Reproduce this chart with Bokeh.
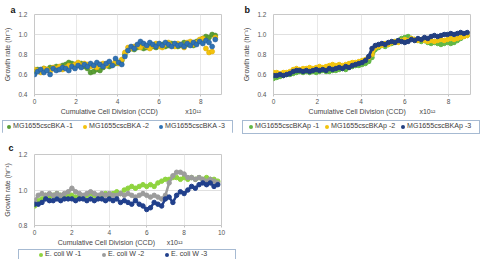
from bokeh.plotting import figure
from bokeh.models import Title, FixedTicker, PrintfTickFormatter, Div
from bokeh.layouts import column, row
from bokeh.embed import file_html
from bokeh.resources import INLINE

FONT = "Liberation Sans"
NB = "\u00a0"

# ---------------- data ----------------
# panel a
a_x = [0.00, 0.15, 0.30, 0.45, 0.60, 0.75, 0.90, 1.05, 1.20, 1.35,
       1.50, 1.65, 1.80, 1.95, 2.10, 2.25, 2.40, 2.55, 2.70, 2.85,
       3.00, 3.15, 3.30, 3.45, 3.60, 3.75, 3.90, 4.05, 4.20, 4.35,
       4.50, 4.65, 4.80, 4.95, 5.10, 5.25, 5.40, 5.55, 5.70, 5.85,
       6.00, 6.15, 6.30, 6.45, 6.60, 6.75, 6.90, 7.05, 7.20, 7.35,
       7.50, 7.65, 7.80, 7.95, 8.10, 8.25, 8.40, 8.55, 8.70]
a_green = [0.63, 0.65, 0.64, 0.66, 0.65, 0.67, 0.66, 0.68, 0.67, 0.69,
           0.70, 0.72, 0.71, 0.70, 0.69, 0.71, 0.68, 0.66, 0.62, 0.63,
           0.65, 0.64, 0.67, 0.69, 0.68, 0.70, 0.71, 0.72, 0.74, 0.80,
           0.84, 0.86, 0.85, 0.87, 0.88, 0.86, 0.87, 0.89, 0.88, 0.87,
           0.89, 0.90, 0.88, 0.89, 0.91, 0.90, 0.88, 0.89, 0.92, 0.90,
           0.91, 0.89, 0.93, 0.94, 0.96, 0.98, 0.97, 1.00, 0.99]
a_yellow = [0.65, 0.64, 0.62, 0.66, 0.65, 0.63, 0.67, 0.66, 0.68, 0.65,
            0.67, 0.69, 0.68, 0.70, 0.72, 0.69, 0.71, 0.70, 0.68, 0.69,
            0.67, 0.70, 0.71, 0.69, 0.72, 0.70, 0.73, 0.71, 0.75, 0.82,
            0.87, 0.86, 0.88, 0.89, 0.87, 0.90, 0.88, 0.86, 0.89, 0.91,
            0.88, 0.87, 0.90, 0.92, 0.89, 0.88, 0.91, 0.90, 0.87, 0.92,
            0.93, 0.90, 0.92, 0.95, 0.96, 0.86, 0.82, 0.83, 0.97]
a_blue = [0.60, 0.63, 0.65, 0.62, 0.64, 0.60, 0.66, 0.64, 0.65, 0.67,
          0.66, 0.64, 0.68, 0.66, 0.69, 0.67, 0.70, 0.68, 0.71, 0.69,
          0.72, 0.70, 0.68, 0.71, 0.73, 0.69, 0.76, 0.72, 0.70, 0.78,
          0.84, 0.88, 0.86, 0.90, 0.93, 0.91, 0.89, 0.92, 0.90, 0.88,
          0.91, 0.89, 0.92, 0.90, 0.88, 0.91, 0.89, 0.90, 0.88, 0.91,
          0.89, 0.92, 0.90, 0.93, 0.91, 0.94, 0.92, 0.88, 0.95]
a_labels = ["MG1655cscBKA -1", "MG1655cscBKA -2", "MG1655cscBKA -3"]

# panel b
b_x = [0.00, 0.15, 0.30, 0.45, 0.60, 0.75, 0.90, 1.05, 1.20, 1.35,
       1.50, 1.65, 1.80, 1.95, 2.10, 2.25, 2.40, 2.55, 2.70, 2.85,
       3.00, 3.15, 3.30, 3.45, 3.60, 3.75, 3.90, 4.05, 4.20, 4.35,
       4.50, 4.65, 4.80, 4.95, 5.10, 5.25, 5.40, 5.55, 5.70, 5.85,
       6.00, 6.15, 6.30, 6.45, 6.60, 6.75, 6.90, 7.05, 7.20, 7.35,
       7.50, 7.65, 7.80, 7.95, 8.10, 8.25, 8.40, 8.55, 8.70, 8.85]
b_green = [0.56, 0.57, 0.58, 0.59, 0.60, 0.60, 0.61, 0.62, 0.63, 0.62,
           0.63, 0.62, 0.63, 0.62, 0.63, 0.64, 0.63, 0.63, 0.64, 0.64,
           0.65, 0.66, 0.65, 0.67, 0.68, 0.69, 0.69, 0.70, 0.71, 0.73,
           0.77, 0.85, 0.87, 0.89, 0.88, 0.90, 0.91, 0.93, 0.94, 0.96,
           0.97, 0.98, 0.96, 0.95, 0.94, 0.93, 0.94, 0.92, 0.91, 0.92,
           0.91, 0.90, 0.91, 0.92, 0.91, 0.92, 0.94, 0.96, 0.98, 0.99]
b_yellow = [0.62, 0.62, 0.61, 0.62, 0.62, 0.63, 0.65, 0.66, 0.65, 0.66,
            0.66, 0.67, 0.66, 0.67, 0.68, 0.67, 0.68, 0.69, 0.70, 0.69,
            0.70, 0.69, 0.70, 0.71, 0.72, 0.72, 0.73, 0.74, 0.75, 0.77,
            0.80, 0.87, 0.88, 0.89, 0.91, 0.90, 0.92, 0.93, 0.92, 0.94,
            0.95, 0.94, 0.96, 0.95, 0.94, 0.95, 0.94, 0.93, 0.94, 0.93,
            0.94, 0.95, 0.94, 0.95, 0.96, 0.95, 0.96, 0.97, 0.98, 0.99]
b_navy = [0.59, 0.59, 0.60, 0.59, 0.60, 0.61, 0.63, 0.64, 0.64, 0.63,
          0.64, 0.63, 0.64, 0.65, 0.64, 0.65, 0.64, 0.66, 0.65, 0.66,
          0.67, 0.66, 0.68, 0.67, 0.69, 0.70, 0.71, 0.72, 0.74, 0.78,
          0.86, 0.89, 0.90, 0.91, 0.90, 0.92, 0.93, 0.92, 0.94, 0.93,
          0.92, 0.93, 0.95, 0.94, 0.96, 0.95, 0.97, 0.96, 0.98, 0.99,
          0.98, 0.99, 1.00, 1.00, 1.01, 1.00, 1.01, 1.02, 1.01, 1.02]
b_labels = ["MG1655cscBKAp -1", "MG1655cscBKAp -2", "MG1655cscBKAp -3"]

# panel c
c_x = [0.0, 0.2, 0.4, 0.6, 0.8, 1.0, 1.2, 1.4, 1.6, 1.8,
       2.0, 2.2, 2.4, 2.6, 2.8, 3.0, 3.2, 3.4, 3.6, 3.8,
       4.0, 4.2, 4.4, 4.6, 4.8, 5.0, 5.2, 5.4, 5.6, 5.8,
       6.0, 6.2, 6.4, 6.6, 6.8, 7.0, 7.2, 7.4, 7.6, 7.8,
       8.0, 8.2, 8.4, 8.6, 8.8, 9.0, 9.2, 9.4, 9.6, 9.8]
c_lime = [0.91, 0.94, 0.95, 0.97, 0.96, 0.97, 0.98, 0.97, 0.96, 0.97,
          0.97, 0.96, 0.97, 0.96, 0.97, 0.98, 0.97, 0.96, 0.97, 0.98,
          0.97, 0.98, 0.99, 0.98, 1.00, 1.01, 1.02, 1.01, 1.02, 1.03,
          1.02, 1.03, 1.02, 1.04, 1.05, 1.06, 1.06, 1.07, 1.07, 1.06,
          1.07, 1.06, 1.07, 1.06, 1.07, 1.06, 1.07, 1.06, 1.06, 1.05]
c_gray = [0.94, 0.97, 0.98, 0.97, 0.98, 0.97, 0.98, 0.97, 0.98, 0.99,
          1.01, 0.99, 0.98, 0.97, 0.98, 0.99, 0.98, 0.97, 0.98, 0.97,
          0.98, 0.97, 0.97, 0.98, 0.97, 0.98, 0.97, 0.96, 0.97, 0.98,
          0.97, 0.96, 0.97, 0.96, 0.95, 0.97, 1.04, 1.08, 1.10, 1.10,
          1.09, 1.07, 1.07, 1.06, 1.07, 1.06, 1.05, 1.06, 1.05, 1.04]
c_navy = [0.92, 0.92, 0.93, 0.95, 0.94, 0.94, 0.95, 0.94, 0.95, 0.95,
          0.95, 0.94, 0.95, 0.95, 0.94, 0.95, 0.94, 0.95, 0.95, 0.94,
          0.95, 0.94, 0.95, 0.93, 0.94, 0.93, 0.92, 0.94, 0.92, 0.91,
          0.89, 0.90, 0.93, 0.92, 0.91, 0.95, 0.96, 0.93, 0.97, 0.99,
          0.98, 1.00, 1.02, 1.01, 1.03, 1.04, 1.03, 1.04, 1.02, 1.03]
c_labels = ["E. coli W -1", "E. coli W -2", "E. coli W -3"]

ab_xticks = [0, 2, 4, 6, 8]
c_xticks = [0, 2, 4, 6, 8, 10]
ab_yticks = [0.4, 0.6, 0.8, 1.0, 1.2]
c_yticks = [0.8, 1.0, 1.2]

a_colors = ["#5a9e35", "#f4c20d", "#2f72b4"]
b_colors = ["#62b845", "#f2c40f", "#233f80"]
c_colors = ["#8fd43f", "#9c9c9c", "#21408c"]

X_TITLE = "Cumulative Cell Division (CCD)"
X_MULT = "x10\u00b9\u00b2"
Y_TITLE = "Growth rate (hr\u207b\u00b9)"


def make_fig(w, h, left, right, top, bottom, xr, yr, xticks, yticks, xlabel,
             letter, letter_offset, letter_standoff):
    p = figure(width=w, height=h, x_range=xr, y_range=yr,
               output_backend="svg", toolbar_location=None,
               min_border_left=left, min_border_right=right,
               min_border_top=top, min_border_bottom=bottom)
    p.title = Title(text=letter, align="left", offset=letter_offset,
                    standoff=letter_standoff, text_font=FONT,
                    text_font_size="9px", text_font_style="bold",
                    text_color="#111111")
    p.outline_line_color = "#c8c8c8"
    p.background_fill_color = "white"
    p.border_fill_color = "white"
    p.xaxis.ticker = FixedTicker(ticks=xticks)
    p.yaxis.ticker = FixedTicker(ticks=yticks)
    p.yaxis.formatter = PrintfTickFormatter(format="%.1f")
    p.xgrid.grid_line_color = "#e8e8e8"
    p.ygrid.grid_line_color = "#e0e0e0"
    for ax in (p.xaxis, p.yaxis):
        ax.axis_line_color = None
        ax.minor_tick_line_color = None
        ax.major_label_text_font = FONT
        ax.major_label_text_font_size = "6.5px"
        ax.major_label_text_color = "#555555"
        ax.axis_label_text_font = FONT
        ax.axis_label_text_font_size = "7px"
        ax.axis_label_text_font_style = "normal"
        ax.axis_label_text_color = "#444444"
    p.xaxis.major_tick_in = 0
    p.xaxis.major_tick_out = 2
    p.xaxis.major_tick_line_color = "#c0c0c0"
    p.xaxis.major_label_standoff = 2
    p.xaxis.axis_label_standoff = 1
    p.xaxis.axis_label = xlabel
    p.yaxis.major_tick_in = 0
    p.yaxis.major_tick_out = 0
    p.yaxis.major_label_standoff = 7
    p.yaxis.axis_label_standoff = 4
    p.yaxis.axis_label = Y_TITLE
    return p


def legend_div(w, h, colors, labels, box_left, box_top, box_w, box_h, pad_left, item_w):
    items = "".join(
        f'<span style="display:inline-flex;align-items:center;width:{item_w}px;flex:none;">'
        f'<span style="display:inline-block;width:4px;height:4px;border-radius:50%;'
        f'background:{c};margin-right:2px;flex:none;"></span>{lab}</span>'
        for c, lab in zip(colors, labels))
    html = (f'<div style="position:relative;left:{box_left}px;top:{box_top}px;'
            f'width:{box_w}px;height:{box_h}px;box-sizing:border-box;'
            f'border:1px solid #a6bad2;background:white;display:flex;align-items:center;'
            f'padding-left:{pad_left}px;font-family:\'{FONT}\';font-size:7.1px;line-height:1;'
            f'color:#404040;white-space:nowrap;overflow:hidden;">{items}</div>')
    return Div(text=html, width=w, height=h, margin=0)


# ---------------- panel a ----------------
pa = make_fig(240, 117, 34, 19, 14, 21, (0, 9), (0.4, 1.2), ab_xticks, ab_yticks,
              NB * 3 + X_TITLE + NB * 14 + X_MULT, "a", -24, 0)
for ys, fc, lc in ((a_green, a_colors[0], "#4b8a2a"),
                   (a_yellow, a_colors[1], "#d8a800"),
                   (a_blue, a_colors[2], "#245c96")):
    pa.scatter(a_x, ys, size=5, fill_color=fc, line_color=lc, line_width=0.5)
la = legend_div(240, 15, a_colors, a_labels, 2, 0, 231, 14, 4, 76)

# ---------------- panel b ----------------
pb = make_fig(241, 117, 31, 11, 14, 23, (0, 9), (0.4, 1.2), ab_xticks, ab_yticks,
              X_TITLE + NB * 7 + X_MULT, "b", -29, 0)
for ys, c in zip((b_green, b_yellow, b_navy), b_colors):
    pb.line(b_x, ys, line_color=c, line_width=3)
    pb.scatter(b_x, ys, size=4.5, fill_color=c, line_color=c)
lb = legend_div(241, 15, b_colors, b_labels, 2, 0, 238, 14, 6, 76)

# ---------------- panel c ----------------
pc = make_fig(240, 116, 34, 19, 22, 21, (0, 10), (0.8, 1.2), c_xticks, c_yticks,
              X_TITLE + NB * 6 + X_MULT + NB * 8, "c", -26, 3)
for ys, c in zip((c_lime, c_gray, c_navy), c_colors):
    pc.line(c_x, ys, line_color=c, line_width=2.5)
    pc.scatter(c_x, ys, size=4.5, fill_color=c, line_color=c)
lc = legend_div(240, 11, c_colors, c_labels, 18, -3, 218, 12, 20, 63)

layout = column(row(column(pa, la), column(pb, lb)), column(pc, lc))
open("out.html", "w").write(file_html(layout, INLINE))
